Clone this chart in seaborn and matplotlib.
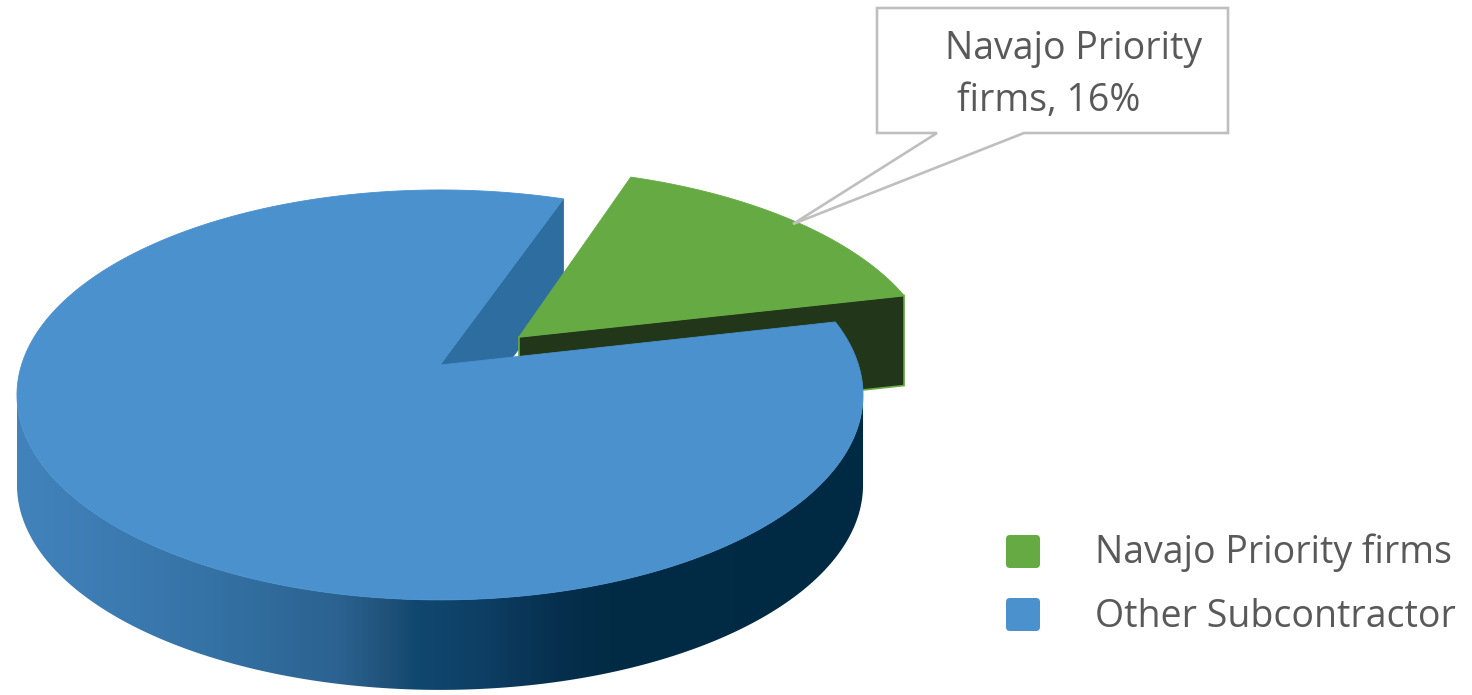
import textwrap

import numpy as np
import matplotlib
matplotlib.use("Agg")
import matplotlib.pyplot as plt
import seaborn as sns
from matplotlib.patches import Polygon, FancyBboxPatch
from matplotlib.colors import LinearSegmentedColormap

# ---- data ----
categories = ["Navajo Priority firms", "Other Subcontractor"]
shares = [16, 84]
top_colors = ["#66AA44", "#4A91CD"]
side_colors = ["#22361A", "#2E6DA0"]

sns.set_theme(style="white")
plt.rcParams["font.family"] = ["Open Sans", "DejaVu Sans"]
TEXT = "#595959"

fig = plt.figure(figsize=(14.72, 6.95), dpi=100)
ax = fig.add_axes([0, 0, 1, 1])
ax.set_xlim(0, 1472)
ax.set_ylim(695, 0)
ax.axis("off")

# ---- perspective projection of a flat disc seen from above ----
CX, CY = 440, 365          # projected centre of the disc
A, B, K = 418.5, 200.6, 0.146
DEPTH = 90                 # thickness of the disc in pixels


def proj(u, v, dz=0.0):
    d = 1 + K * np.asarray(v)
    return CX + A * np.asarray(u) / d, CY - B * np.asarray(v) / d + dz


def arc(t0, t1, du=0.0, dv=0.0, dz=0.0, n=240):
    t = np.radians(np.linspace(t0, t1, n))
    x, y = proj(np.cos(t) + du, np.sin(t) + dv, dz)
    return np.column_stack([x, y])


def pt(u, v, dz=0.0):
    x, y = proj(u, v, dz)
    return [float(x), float(y)]


total = sum(shares)
start = 12.8
g0 = start
g1 = g0 + shares[0] / total * 360
b0, b1 = g1, g1 + shares[1] / total * 360

# exploded offset of the small slice
mid = np.radians((g0 + g1) / 2 - 5)
explode = 0.24
du, dv = explode * np.cos(mid), explode * np.sin(mid)

# blue radial face at the cut facing the gap
rb = np.radians(b0)
face_b = [pt(0, 0), pt(np.cos(rb), np.sin(rb)),
          pt(np.cos(rb), np.sin(rb), DEPTH), pt(0, 0, DEPTH)]
ax.add_patch(Polygon(face_b, closed=True, facecolor=side_colors[1],
                     edgecolor=side_colors[1], lw=0.6, zorder=1))

# green radial face (front)
rg = np.radians(g0)
face_g = [pt(du, dv), pt(np.cos(rg) + du, np.sin(rg) + dv),
          pt(np.cos(rg) + du, np.sin(rg) + dv, DEPTH), pt(du, dv, DEPTH)]
ax.add_patch(Polygon(face_g, closed=True, facecolor=side_colors[0],
                     edgecolor=top_colors[0], lw=1.2, zorder=2))

# green top face
g_top = np.vstack([[pt(du, dv)], arc(g0, g1, du, dv)])
ax.add_patch(Polygon(g_top, closed=True, facecolor=top_colors[0],
                     edgecolor=top_colors[0], lw=0.6, zorder=3))

# blue outer wall with a horizontal shading gradient
s = np.degrees(np.arcsin(K))
top_arc = arc(180 + s, 360 - s)
bot_arc = arc(180 + s, 360 - s, dz=DEPTH)[::-1]
wall = np.vstack([top_arc, bot_arc])
wall_patch = Polygon(wall, closed=True, facecolor="none", edgecolor="none", zorder=4)
ax.add_patch(wall_patch)
stops = [(0.00, "#4283BC"), (0.10, "#3D7CB3"), (0.25, "#3370A2"),
         (0.38, "#2B6290"), (0.44, "#1F5178"), (0.47, "#114870"),
         (0.56, "#0D3D62"), (0.64, "#062F4D"), (0.70, "#022B46"),
         (1.00, "#002A44")]
cmap = LinearSegmentedColormap.from_list("wall", stops)
xmin, xmax = wall[:, 0].min(), wall[:, 0].max()
ymin, ymax = wall[:, 1].min(), wall[:, 1].max()
grad = np.linspace(0, 1, 512)[None, :]
im = ax.imshow(grad, extent=(xmin, xmax, ymax, ymin), cmap=cmap,
               aspect="auto", zorder=4, interpolation="bilinear")
im.set_clip_path(wall_patch)

# blue top face
b_top = np.vstack([[pt(0, 0)], arc(b0, b1)])
ax.add_patch(Polygon(b_top, closed=True, facecolor=top_colors[1],
                     edgecolor=top_colors[1], lw=0.6, zorder=5))
ax.set_xlim(0, 1472)
ax.set_ylim(695, 0)

# ---- data callout ----
tip = (793, 224)
callout = [(877, 8), (1228, 8), (1228, 133), (1024, 133), tip,
           (937, 133), (877, 133)]
ax.add_patch(Polygon(callout, closed=True, facecolor="white",
                     edgecolor="#BFBFBF", lw=1.9, zorder=6, joinstyle="miter"))
lines = textwrap.wrap(f"{categories[0]}, {shares[0]}%", 16)
ax.text(945, 59, lines[0], fontsize=27, color=TEXT, va="baseline",
        ha="left", zorder=7)
ax.text(957, 111, lines[1], fontsize=27, color=TEXT, va="baseline",
        ha="left", zorder=7)

# ---- legend ----
for i, (name, col) in enumerate(zip(categories, top_colors)):
    y0 = 535 + i * 63
    ax.add_patch(FancyBboxPatch((1006, y0), 34, 33,
                                boxstyle="round,pad=0,rounding_size=4",
                                facecolor=col, edgecolor="none", zorder=6))
    ax.text(1095, 563 + i * 64, name, fontsize=27, color=TEXT, va="baseline",
            ha="left", zorder=7)

fig.savefig("out.png", dpi=100, facecolor="white")
